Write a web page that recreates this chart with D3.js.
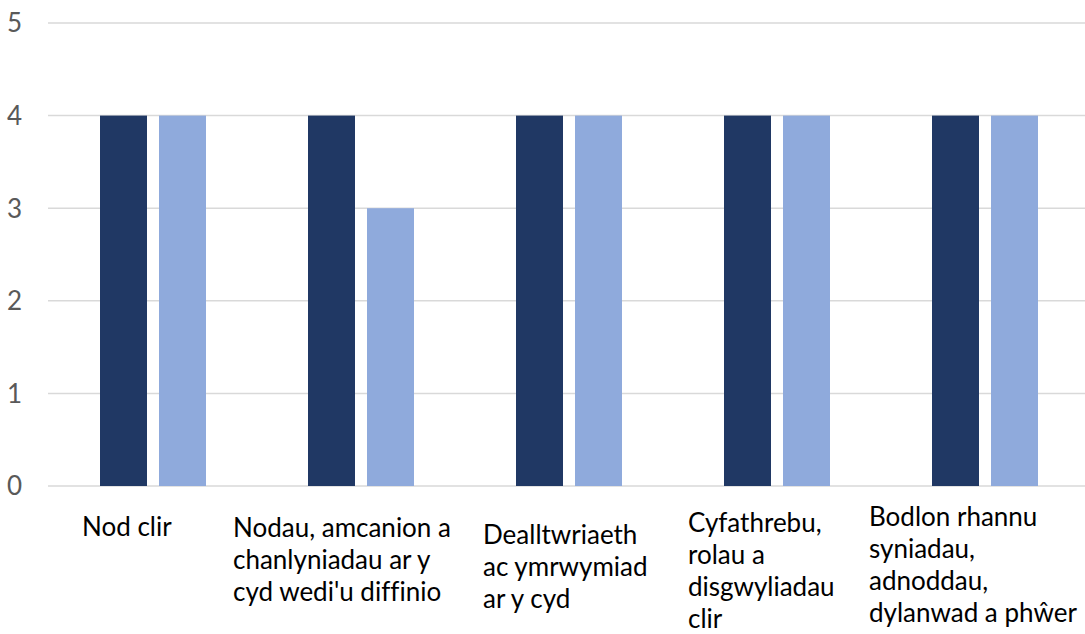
<!DOCTYPE html>
<html>
<head>
<meta charset="utf-8">
<script src="https://cdn.jsdelivr.net/npm/d3@7"></script>
<style>
  html, body { margin: 0; padding: 0; background: #fff; }
  svg text { font-family: Lato, "Noto Sans", sans-serif; font-variant-ligatures: none; }
</style>
</head>
<body>
<svg id="chart" width="1085" height="634"></svg>
<script>
'use strict';

// data
var categories = ["c1", "c2", "c3", "c4", "c5"];
var categoryLines = [
    ["Nod clir"],
    ["Nodau, amcanion a", "chanlyniadau ar y", "cyd wedi'u diffinio"],
    ["Dealltwriaeth", "ac ymrwymiad", "ar y cyd"],
    ["Cyfathrebu,", "rolau a", "disgwyliadau", "clir"],
    ["Bodlon rhannu", "syniadau,", "adnoddau,", "dylanwad a phŵer"]
];
var seriesNames = ["s1", "s2"];
var series1 = [4, 4, 4, 4, 4];
var series2 = [4, 3, 4, 4, 4];
var yTicks = [0, 1, 2, 3, 4, 5];

// layout
var colors = ["#203864", "#8faadc"];
var labelLeft = [82, 233, 483, 688, 869];
var labelTop = [536, 537, 544, 532, 526];
var lineHeight = 32;
var fontSize = "26px";

var svg = d3.select("#chart");

var x0 = d3.scaleBand().domain(categories).range([49, 1089]).padding(0);
var groupWidth = 106;
var x1 = d3.scaleBand().domain(seriesNames)
    .range([0, groupWidth]).paddingInner(12 / 59).paddingOuter(0);
var y = d3.scaleLinear().domain([0, 5]).range([486, 23]);

// gridlines
svg.append("g").selectAll("line")
    .data(yTicks)
    .enter().append("line")
    .attr("x1", 48).attr("x2", 1085)
    .attr("y1", function(d) { return y(d); })
    .attr("y2", function(d) { return y(d); })
    .attr("stroke", "#d9d9d9")
    .attr("stroke-width", 1.5);

// y tick labels
svg.append("g").selectAll("text")
    .data(yTicks)
    .enter().append("text")
    .attr("x", 22)
    .attr("y", function(d) { return y(d); })
    .attr("dy", "0.36em")
    .attr("text-anchor", "end")
    .attr("fill", "#595959")
    .style("font-size", fontSize)
    .text(function(d) { return d; });

// bars
var rows = categories.map(function(c, i) {
    return { cat: c, values: [series1[i], series2[i]] };
});

var groups = svg.append("g").selectAll("g")
    .data(rows)
    .enter().append("g")
    .attr("transform", function(d) {
        return "translate(" + (x0(d.cat) + (x0.bandwidth() - groupWidth) / 2) + ",0)";
    });

groups.selectAll("rect")
    .data(function(d) { return d.values.map(function(v, j) { return { s: seriesNames[j], v: v, j: j }; }); })
    .enter().append("rect")
    .attr("x", function(d) { return x1(d.s); })
    .attr("width", x1.bandwidth())
    .attr("y", function(d) { return y(d.v); })
    .attr("height", function(d) { return y(0) - y(d.v); })
    .attr("fill", function(d) { return colors[d.j]; });

// category labels
var labels = svg.append("g").selectAll("text")
    .data(categoryLines)
    .enter().append("text")
    .attr("fill", "#000")
    .style("font-size", fontSize)
    .attr("x", function(d, i) { return labelLeft[i]; })
    .attr("y", function(d, i) { return labelTop[i]; });

labels.selectAll("tspan")
    .data(function(d, i) { return d.map(function(t) { return { t: t, i: i }; }); })
    .enter().append("tspan")
    .attr("x", function(d) { return labelLeft[d.i]; })
    .attr("dy", function(d, k) { return k === 0 ? 0 : lineHeight; })
    .text(function(d) { return d.t; });
</script>
</body>
</html>
